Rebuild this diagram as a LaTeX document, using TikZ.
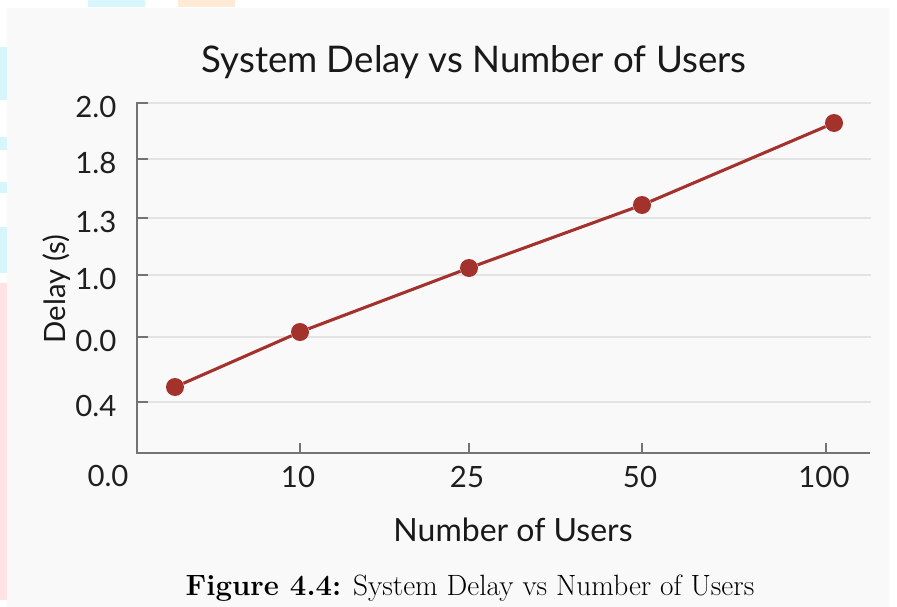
\documentclass[tikz,border=0pt]{standalone}
\usepackage{fontspec}
\newfontfamily\chartfont{Lato}
\definecolor{delayred}{RGB}{163,49,44}
\definecolor{panelgray}{RGB}{250,249,250}
\definecolor{edgecyan}{RGB}{214,246,251}
\definecolor{edgeorange}{RGB}{255,234,214}
\definecolor{edgepink}{RGB}{255,226,228}

\begin{document}
\begin{tikzpicture}[x=0.75pt,y=-0.75pt,
    gridline/.style ={draw=black!11, line width=0.8pt},
    axisline/.style ={draw=black!55, line width=1.1pt},
    ticklabel/.style ={font=\chartfont\fontsize{22}{26}\selectfont, text=black!88},
    datapoint/.style ={circle, fill=delayred, inner sep=0pt, minimum size=13.5pt}]
   \useasboundingbox (0,0) rectangle (897,607);
   % background and edge streaks
   \fill[white] (0,0) rectangle (897,607);
   \fill[panelgray] (7,8) rectangle (889,607);
   \fill[edgecyan] (88,0) rectangle (145,7);
   \fill[edgeorange] (178,0) rectangle (235,7);
   \fill[edgecyan] (0,47) rectangle (7,100);
   \fill[edgecyan] (0,137) rectangle (7,150);
   \fill[edgecyan] (0,182) rectangle (7,193);
   \fill[edgecyan] (0,227) rectangle (7,273);
   \fill[edgepink] (0,283) rectangle (7,600);
   % grid and y ticks
   \foreach \y/\t [count=\i] in {103/2.0,159/1.8,218/1.3,275/1.0,337/0.0,402/0.4} {
     \draw[gridline] (137,\y) -- (871,\y);
     \draw[axisline] (137,\y) -- (148,\y);
     \node[ticklabel, anchor=east] (ylab\i) at (121,\y+4) {\t};
   }
   \node[ticklabel] (origin) at (108,476) {0.0};
   % axes and x ticks
   \draw[axisline] (137,102) -- (137,453) -- (870,453);
   \foreach \x/\t in {300/10,469/25,642/50,826/100} {
     \draw[axisline] (\x,443) -- (\x,453);
     \node[ticklabel] (xlab\t) at (\x-2,477) {\t};
   }
   % data
   \node[datapoint] (p1) at (175,387) {};
   \node[datapoint] (p2) at (300,332) {};
   \node[datapoint] (p3) at (469,268) {};
   \node[datapoint] (p4) at (642,205) {};
   \node[datapoint] (p5) at (834,123) {};
   \draw[delayred, line width=2.3pt] (p1) -- (p2) -- (p3) -- (p4) -- (p5);
   % titles
   \node[font=\chartfont\fontsize{27.5}{32}\selectfont, text=black!90] (title) at (474,62) {System Delay vs Number of Users};
   \node[font=\chartfont\fontsize{24}{28}\selectfont, text=black!90] (xtitle) at (513,530) {Number of Users};
   \node[font=\chartfont\fontsize{22}{26}\selectfont, text=black!90, rotate=90] (ytitle) at (57,289) {Delay (s)};
   \node[font=\fontsize{22}{26}\selectfont] (caption) at (470,588) {\textbf{Figure 4.4:} System Delay vs Number of Users};
\end{tikzpicture}
\end{document}
